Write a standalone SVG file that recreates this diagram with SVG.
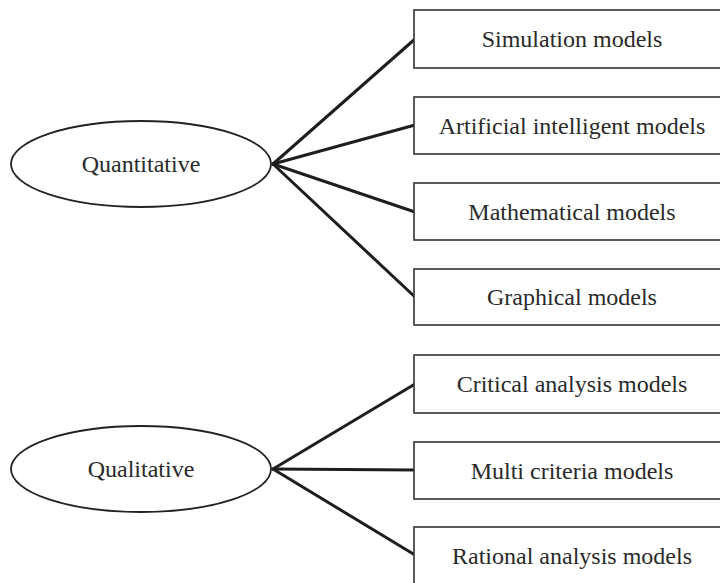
<svg xmlns="http://www.w3.org/2000/svg" width="720" height="583" viewBox="0 0 720 583">
<style>
.box{fill:#fff;stroke:#333;stroke-width:1.6}
.ell{fill:#fff;stroke:#222;stroke-width:1.8}
.t{font-family:"Liberation Serif","Times New Roman",serif;font-size:24px;fill:#2a2a2a;text-anchor:middle}
.c{stroke:#1e1e1e;stroke-width:3;fill:none;stroke-linecap:round}
</style>
<rect width="720" height="583" fill="#fff"/>
<g id="connectors">
<line class="c" x1="273" y1="164" x2="415" y2="39"/>
<line class="c" x1="273" y1="164" x2="415" y2="125"/>
<line class="c" x1="273" y1="164" x2="415" y2="212"/>
<line class="c" x1="273" y1="164" x2="415" y2="297"/>
<line class="c" x1="273" y1="469" x2="415" y2="384"/>
<line class="c" x1="273" y1="469" x2="415" y2="470"/>
<line class="c" x1="273" y1="469" x2="415" y2="555"/>
</g>
<g id="quantitative"><ellipse class="ell" cx="141" cy="164" rx="130" ry="43"/><text class="t" x="141" y="172">Quantitative</text></g>
<g id="qualitative"><ellipse class="ell" cx="141" cy="469" rx="130" ry="43"/><text class="t" x="141" y="477">Qualitative</text></g>
<g id="simulation"><rect class="box" x="414" y="10" width="316" height="58"/><text class="t" x="572" y="47">Simulation models</text></g>
<g id="ai"><rect class="box" x="414" y="97" width="316" height="57"/><text class="t" x="572" y="134">Artificial intelligent models</text></g>
<g id="mathematical"><rect class="box" x="414" y="183" width="316" height="57"/><text class="t" x="572" y="220">Mathematical models</text></g>
<g id="graphical"><rect class="box" x="414" y="269" width="316" height="56"/><text class="t" x="572" y="305">Graphical models</text></g>
<g id="critical"><rect class="box" x="414" y="355" width="316" height="58"/><text class="t" x="572" y="392">Critical analysis models</text></g>
<g id="multi"><rect class="box" x="414" y="442" width="316" height="57"/><text class="t" x="572" y="479">Multi criteria models</text></g>
<g id="rational"><rect class="box" x="414" y="527" width="316" height="58"/><text class="t" x="572" y="564">Rational analysis models</text></g>
</svg>
